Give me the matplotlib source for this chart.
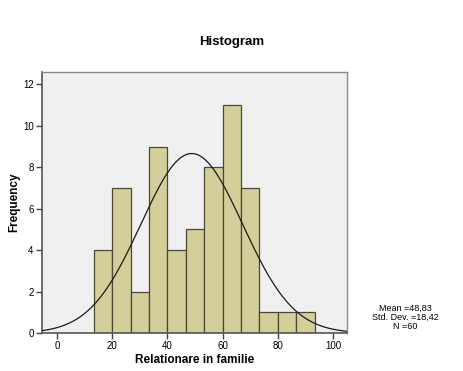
import numpy as np
import matplotlib
matplotlib.use("Agg")
import matplotlib.pyplot as plt

plt.rcParams['font.family'] = ['Liberation Sans', 'DejaVu Sans']

# histogram data
bin_start = 13.33
bin_width = 6.667
counts = [4, 7, 2, 9, 4, 5, 8, 11, 7, 1, 1, 1]
mean = 48.83
std = 18.42
n = 60
x_ticks = [0, 20, 40, 60, 80, 100]
y_ticks = [0, 2, 4, 6, 8, 10, 12]

fig = plt.figure(figsize=(4.64, 3.71), dpi=100)
ax = fig.add_axes([0.0905, 0.1024, 0.657, 0.7036])
ax.set_facecolor('#f0f0f0')

lefts = [bin_start + i * bin_width for i in range(len(counts))]
ax.bar(lefts, counts, width=bin_width, align='edge', color='#d3ce9a',
       edgecolor='#4a4a32', linewidth=0.9, zorder=2)

# normal curve scaled to counts
xs = np.linspace(-5.4, 105, 400)
ys = n * bin_width * np.exp(-0.5 * ((xs - mean) / std) ** 2) / (std * np.sqrt(2 * np.pi))
ax.plot(xs, ys, color='#1a1a1a', linewidth=0.9, zorder=3)

ax.set_xlim(-5.4, 105)
ax.set_ylim(0, 12.6)
ax.set_xticks(x_ticks)
ax.set_yticks(y_ticks)
ax.tick_params(labelsize=7, length=4, width=1, color='#444444', pad=2)

for side in ['top', 'right']:
    ax.spines[side].set_color('#8a8a8a')
    ax.spines[side].set_linewidth(1)
for side in ['left', 'bottom']:
    ax.spines[side].set_color('#555555')
    ax.spines[side].set_linewidth(1.2)

ax.set_xlabel('Relationare in familie', fontsize=8.5, fontweight='bold', labelpad=2)
ax.set_ylabel('Frequency', fontsize=8.5, fontweight='bold', labelpad=2)

fig.text(0.5, 0.887, 'Histogram', ha='center', va='center', fontsize=9.5, fontweight='bold')
fig.text(0.873, 0.145, 'Mean =48,83\nStd. Dev. =18,42\nN =60', ha='center', va='center',
         fontsize=6.5, linespacing=1.05)

fig.savefig('out.png', dpi=100)
